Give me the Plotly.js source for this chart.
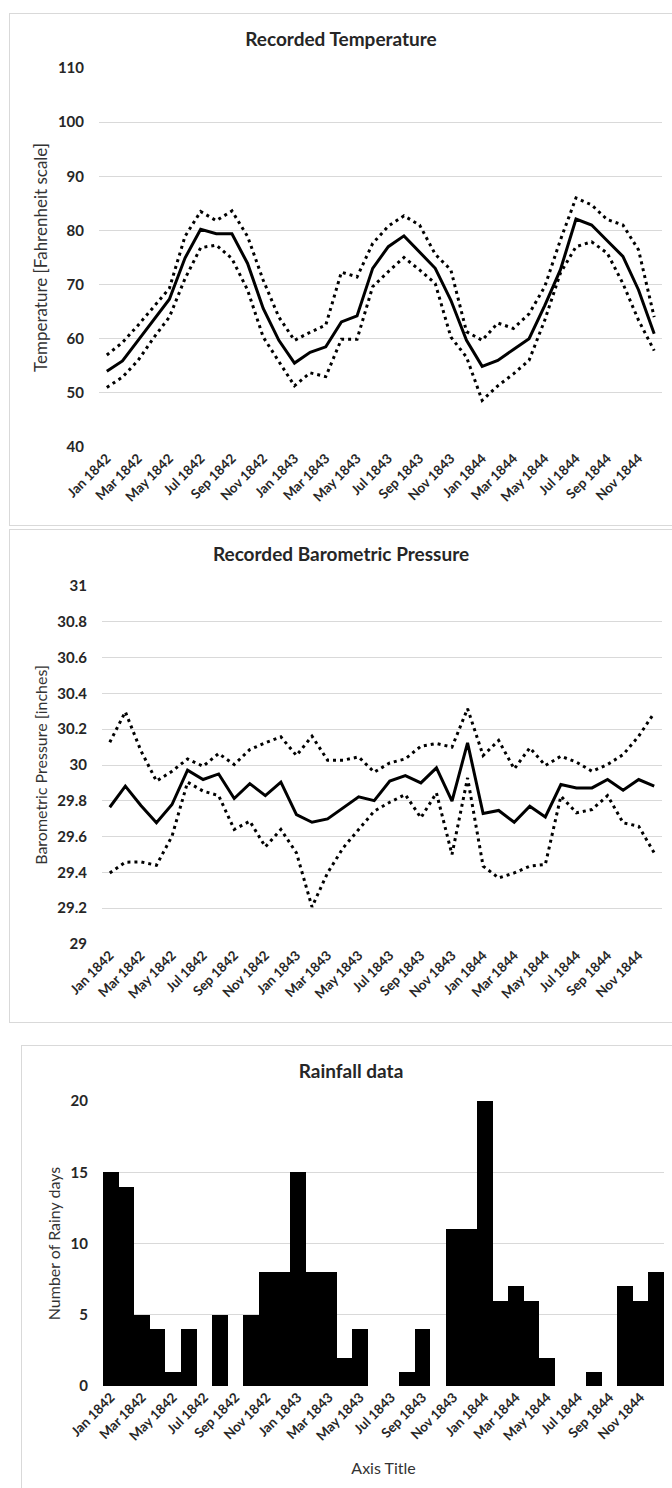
<!DOCTYPE html>
<html>
<head>
<meta charset="utf-8">
<script src="https://cdn.plot.ly/plotly-3.0.1.min.js"></script>
<style>
  html, body { margin: 0; padding: 0; background: #ffffff; overflow: hidden; width: 672px; height: 1488px; }
  .box { position: absolute; border: 1px solid #d9d9d9; box-sizing: border-box; background: #fff; }
  #c1 { left: 9px; top: 13px; width: 664px; height: 513px; }
  #c2 { left: 9px; top: 529px; width: 664px; height: 494px; }
  #c3 { left: 21px; top: 1045px; width: 660px; height: 450px; }
</style>
</head>
<body>
<div id="c1" class="box"></div>
<div id="c2" class="box"></div>
<div id="c3" class="box"></div>
<script>
const months = ["Jan 1842","Feb 1842","Mar 1842","Apr 1842","May 1842","Jun 1842","Jul 1842","Aug 1842","Sep 1842","Oct 1842","Nov 1842","Dec 1842",
                "Jan 1843","Feb 1843","Mar 1843","Apr 1843","May 1843","Jun 1843","Jul 1843","Aug 1843","Sep 1843","Oct 1843","Nov 1843","Dec 1843",
                "Jan 1844","Feb 1844","Mar 1844","Apr 1844","May 1844","Jun 1844","Jul 1844","Aug 1844","Sep 1844","Oct 1844","Nov 1844","Dec 1844"];
const tickLabels = ["Jan 1842","Mar 1842","May 1842","Jul 1842","Sep 1842","Nov 1842",
                    "Jan 1843","Mar 1843","May 1843","Jul 1843","Sep 1843","Nov 1843",
                    "Jan 1844","Mar 1844","May 1844","Jul 1844","Sep 1844","Nov 1844"];

const tempMean = [54.0,55.9,59.7,63.5,67.3,74.9,80.2,79.4,79.4,73.9,65.6,59.7,
                  55.5,57.5,58.5,63.1,64.2,73.0,77.0,79.0,76.0,73.0,67.1,59.7,
                  54.9,56.0,58.0,60.0,66.1,72.7,82.1,81.0,78.1,75.2,69.0,60.9];
const tempHigh = [57.0,59.3,62.5,66.0,69.3,78.9,83.5,81.8,83.6,78.9,70.8,64.0,
                  59.7,61.2,62.5,72.3,71.4,77.6,80.8,82.7,81.0,75.6,72.7,61.3,
                  59.7,62.9,61.9,64.6,69.6,78.2,86.0,84.7,82.0,81.0,76.4,64.0];
const tempLow  = [51.0,52.9,56.0,60.2,64.0,71.1,76.8,77.3,74.8,69.0,60.3,55.7,
                  51.3,53.7,53.0,59.9,59.9,69.6,72.4,75.0,72.7,70.2,60.3,56.6,
                  48.6,51.3,53.5,56.0,63.4,72.1,77.0,77.9,75.8,70.2,63.4,57.8];

const pressMean = [29.764,29.882,29.774,29.677,29.779,29.971,29.919,29.950,29.813,29.896,29.829,29.904,
                   29.723,29.680,29.699,29.761,29.822,29.801,29.910,29.941,29.900,29.984,29.798,30.124,
                   29.729,29.746,29.680,29.770,29.710,29.891,29.872,29.872,29.919,29.859,29.919,29.882];
const pressHigh = [30.127,30.297,30.080,29.910,29.965,30.034,29.993,30.064,30.003,30.086,30.124,30.157,
                   30.053,30.161,30.027,30.027,30.045,29.960,30.012,30.034,30.105,30.120,30.100,30.315,
                   30.053,30.137,29.978,30.096,29.997,30.049,30.016,29.965,30.003,30.058,30.161,30.291];
const pressLow  = [29.397,29.457,29.459,29.440,29.602,29.904,29.854,29.829,29.640,29.686,29.543,29.640,
                   29.509,29.207,29.397,29.537,29.640,29.742,29.792,29.835,29.705,29.844,29.500,29.928,
                   29.435,29.369,29.397,29.435,29.444,29.826,29.733,29.751,29.829,29.677,29.658,29.509];

const rainyDays = [15,14,5,4,1,4,0,5,0,5,8,8,
                   15,8,8,2,4,0,0,1,4,0,11,11,
                   20,6,7,6,2,0,0,1,0,7,6,8];

const FONT = "Lato, 'Open Sans', sans-serif";
const TXT = "#262626";
const GRID = "#d9d9d9";

function xAxis(extra) {
  return Object.assign({
    type: "category",
    categoryorder: "array",
    categoryarray: months,
    range: [-0.5, 35.5],
    tickmode: "array",
    tickvals: tickLabels,
    ticktext: tickLabels,
    tickangle: -45,
    tickfont: { family: FONT, size: 13.5, color: TXT, weight: "bold" },
    showgrid: false,
    zeroline: false,
    showline: false,
    ticks: "",
    automargin: false,
    fixedrange: true
  }, extra || {});
}
function yAxis(range, dtick, title, standoff, titleSize) {
  return {
    range: range,
    dtick: dtick,
    tick0: range[0],
    showgrid: true,
    gridcolor: GRID,
    gridwidth: 1,
    zeroline: false,
    showline: false,
    ticks: "",
    ticklabelstandoff: 14,
    tickfont: { family: FONT, size: 15, color: TXT, weight: "bold" },
    title: { text: title, font: { family: FONT, size: titleSize, color: "#333333" }, standoff: standoff },
    automargin: false,
    fixedrange: true
  };
}
function titleObj(text, yFrac) {
  return { text: text, x: 0.5, xref: "container", xanchor: "center",
           y: yFrac, yref: "container", yanchor: "middle",
           font: { family: FONT, size: 19, color: TXT, weight: "bold" } };
}
const dotLine = { color: "#000", width: 3, dash: "3px,4px" };
const solidLine = { color: "#000", width: 3 };
const cfg = { staticPlot: true, displayModeBar: false };

// Chart 1: temperature
Plotly.newPlot("c1", [
  { type: "scatter", mode: "lines", x: months, y: tempHigh, line: dotLine, name: "High" },
  { type: "scatter", mode: "lines", x: months, y: tempLow, line: dotLine, name: "Low" },
  { type: "scatter", mode: "lines", x: months, y: tempMean, line: solidLine, name: "Mean" }
], {
  width: 662, height: 511,
  margin: { l: 89, r: 10, t: 54, b: 78 },
  paper_bgcolor: "#fff", plot_bgcolor: "#fff",
  showlegend: false,
  title: titleObj("Recorded Temperature", 1 - 25 / 511),
  xaxis: xAxis(),
  yaxis: yAxis([40, 110], 10, "Temperature [Fahrenheit scale]", 5, 17)
}, cfg);

// Chart 2: barometric pressure
Plotly.newPlot("c2", [
  { type: "scatter", mode: "lines", x: months, y: pressHigh, line: dotLine, name: "High" },
  { type: "scatter", mode: "lines", x: months, y: pressLow, line: dotLine, name: "Low" },
  { type: "scatter", mode: "lines", x: months, y: pressMean, line: solidLine, name: "Mean" }
], {
  width: 662, height: 492,
  margin: { l: 92, r: 10, t: 56, b: 78 },
  paper_bgcolor: "#fff", plot_bgcolor: "#fff",
  showlegend: false,
  title: titleObj("Recorded Barometric Pressure", 1 - 24 / 492),
  xaxis: xAxis(),
  yaxis: yAxis([29, 31], 0.2, "Barometric Pressure [inches]", 5, 16)
}, cfg);

// Chart 3: rainfall
Plotly.newPlot("c3", [
  { type: "bar", x: months, y: rainyDays, marker: { color: "#000", line: { width: 0 } }, name: "Rainy days" }
], {
  width: 658, height: 448,
  margin: { l: 81, r: 16, t: 55, b: 108 },
  bargap: 0,
  paper_bgcolor: "#fff", plot_bgcolor: "#fff",
  showlegend: false,
  title: titleObj("Rainfall data", 1 - 25 / 448),
  xaxis: xAxis({ title: { text: "Axis Title", font: { family: FONT, size: 16, color: "#333333" }, standoff: 20 } }),
  yaxis: yAxis([0, 20], 5, "Number of Rainy days", 5, 16)
}, cfg);
</script>
</body>
</html>
